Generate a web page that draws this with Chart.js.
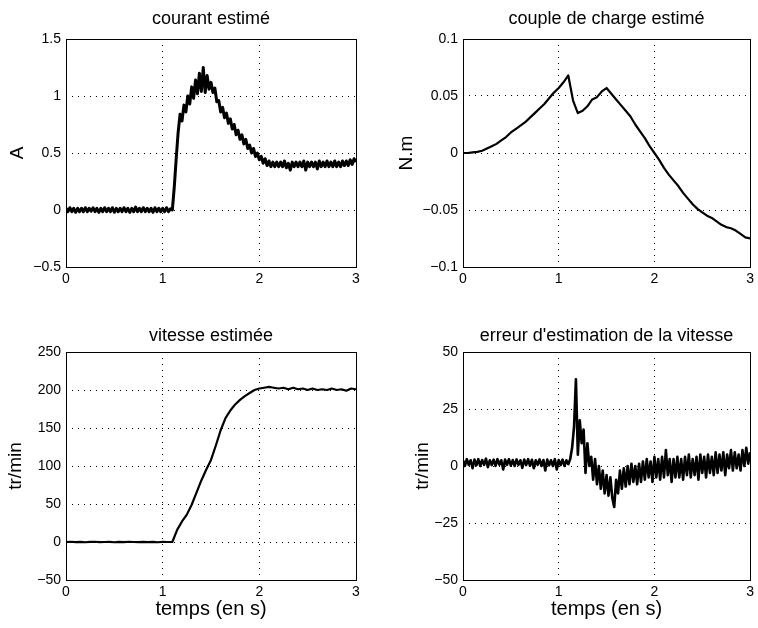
<!DOCTYPE html>
<html lang="fr">
<head>
<meta charset="utf-8">
<title>Observateur : grandeurs estimées</title>
<script src="https://cdn.jsdelivr.net/npm/chart.js@4.4.1/dist/chart.umd.min.js"></script>
<style>
  html, body { margin: 0; padding: 0; background: #fff; }
  #page { position: relative; width: 758px; height: 628px; overflow: hidden; }
  canvas { position: absolute; }
</style>
</head>
<body>
<div id="page">
  <canvas id="courantChart" width="379" height="310" style="left:0;top:0"></canvas>
  <canvas id="coupleChart" width="379" height="310" style="left:379px;top:0"></canvas>
  <canvas id="vitesseChart" width="379" height="318" style="left:0;top:310px"></canvas>
  <canvas id="erreurChart" width="379" height="318" style="left:379px;top:310px"></canvas>
</div>
<script>
// temps (s) : axe commun aux quatre tracés
const xTicks = [0, 1, 2, 3];

// courant estimé (A), un point toutes les 20 ms
const courantStep = 0.02;
const courantTicks = [-0.5, 0, 0.5, 1, 1.5];
const courantValues = [
  0.015, -0.015, 0.02, -0.015, 0.015, -0.02, 0.015, -0.015, 0.015, -0.015,
  0.02, -0.015, 0.015, -0.01, 0.02, -0.015, 0.015, -0.02, 0.015, -0.015,
  0.02, -0.015, 0.015, -0.015, 0.02, -0.02, 0.015, -0.015, 0.015, -0.015,
  0.02, -0.015, 0.015, -0.02, 0.015, -0.015, 0.025, -0.015, 0.015, -0.015,
  0.02, -0.015, 0.015, -0.015, 0.015, -0.02, 0.02, -0.015, 0.015, -0.015,
  0.015, -0.015, 0.02, -0.015, 0.01,
  0.0, 0.2, 0.45, 0.68, 0.84, 0.78, 0.92, 0.86, 1.0, 0.93,
  1.08, 0.98, 1.14, 1.02, 1.2, 1.04, 1.25, 1.03, 1.18, 1.06,
  1.12, 1.03, 1.07, 0.95, 0.96, 0.86, 0.90, 0.81, 0.85, 0.76,
  0.80, 0.71, 0.75, 0.66, 0.70, 0.62, 0.66, 0.58, 0.62, 0.54,
  0.57, 0.50, 0.54, 0.47, 0.50, 0.44, 0.47, 0.41, 0.45, 0.39,
  0.43, 0.38, 0.42, 0.38, 0.42,
  0.38, 0.42, 0.38, 0.43, 0.37, 0.41, 0.35, 0.42, 0.38, 0.42,
  0.38, 0.42, 0.38, 0.43, 0.35, 0.42, 0.38, 0.42, 0.38, 0.42,
  0.36, 0.43, 0.38, 0.42, 0.38, 0.43, 0.38, 0.42, 0.38, 0.43,
  0.38, 0.42, 0.38, 0.43, 0.39, 0.43, 0.39, 0.44, 0.40, 0.45,
  0.42
];

// couple de charge estimé (N.m), un point toutes les 50 ms
const coupleStep = 0.05;
const coupleTicks = [-0.1, -0.05, 0, 0.05, 0.1];
const coupleValues = [
  0, 0, 0.0005, 0.001, 0.002, 0.004, 0.006, 0.008, 0.011, 0.014,
  0.018, 0.021, 0.024, 0.027, 0.031, 0.035, 0.039, 0.043, 0.048, 0.053,
  0.057, 0.062, 0.068, 0.046, 0.035, 0.037, 0.041, 0.047, 0.049, 0.054,
  0.057, 0.052, 0.047, 0.042, 0.037, 0.032, 0.025, 0.019, 0.013, 0.006,
  0.0, -0.006, -0.013, -0.019, -0.024, -0.029, -0.035, -0.040, -0.045, -0.049,
  -0.052, -0.055, -0.057, -0.060, -0.063, -0.065, -0.066, -0.068, -0.071, -0.074,
  -0.075
];

// vitesse estimée (tr/min), un point toutes les 50 ms
const vitesseStep = 0.05;
const vitesseTicks = [-50, 0, 50, 100, 150, 200, 250];
const vitesseValues = [
  0, 0.3, -0.2, 0.2, -0.3, 0.1, 0.3, -0.2, 0, 0.2,
  -0.3, 0.1, -0.2, 0.3, 0, -0.2, 0.2, -0.1, 0.1, -0.3,
  0.2, 0, 0,
  16, 27, 36, 49, 65, 81, 95, 108, 127, 147,
  163, 173, 181, 187, 192, 196, 200, 202, 203, 204,
  203, 202, 203, 201, 203, 201, 202, 200, 202, 200,
  201, 200, 202, 200, 201, 199, 202, 201
];

// erreur d'estimation de la vitesse (tr/min), un point toutes les 20 ms
const erreurStep = 0.02;
const erreurTicks = [-50, -25, 0, 25, 50];
const erreurValues = [
  2.5, 0, 3, 0.5, 2.5, -1, 2.8, 0.3, 3, 0,
  2.6, 0.5, 3.2, -0.5, 2.5, 0.4, 2.8, 0, 3, 0.6,
  2.5, -1.5, 2.8, 0.5, 3, 0.2, 2.6, 0, 2.9, 0.5,
  2.5, -0.8, 2.8, 0.4, 3, 0.1, 2.7, -1, 2.5, 0.5,
  2.9, 0, 2.6, -2, 2.8, 0.3, 2.5, 0, 3, -1.5,
  2.6, 0.4, 2.8, 0, 2.5, 0.8,
  3, 8, 17, 38, 5, 20, 10, 16, -3, 10,
  0, 4, -6, 3, -8,
  0, -10, -2, -12, -4, -13, -5, -14, -18, -6,
  -12, -2, -10, -1, -9, 0, -8, 1, -7, 0,
  -8, 1, -7, 2, -6, 3, -5, 2, -7, 4,
  -5, 3, -6, 4, -5, 7, -4, 3, -7, 3,
  -5, 4, -5, 3, -6, 4, -4, 5, -5, 3,
  -4, 4, -6, 5, -3, 4, -5, 5, -3, 4,
  -4, 6, -3, 5, -2, 6, -4, 5, -1, 7,
  -2, 6, -1, 5, -2, 7, 0, 8, 1, 6
];

const FONT = '"Liberation Sans", Arial, Helvetica, sans-serif';

// cadre complet autour de la zone de tracé + titre centré sur cette zone
const boxFrame = {
  id: 'boxFrame',
  afterDraw(chart, args, opts) {
    const { ctx, chartArea: a } = chart;
    ctx.save();
    ctx.strokeStyle = '#000';
    ctx.lineWidth = 1;
    ctx.strokeRect(Math.round(a.left) + 0.5, Math.round(a.top) + 0.5,
      Math.round(a.right - a.left), Math.round(a.bottom - a.top));
    ctx.fillStyle = '#000';
    ctx.font = '18px ' + FONT;
    ctx.textAlign = 'center';
    ctx.textBaseline = 'middle';
    ctx.fillText(opts.text, (a.left + a.right) / 2, opts.y);
    ctx.restore();
  }
};

const fmt = v => String(v).replace('-', '\u2212');

function makeChart(id, o) {
  const points = o.values.map((v, i) => ({ x: i * o.step, y: v }));
  new Chart(document.getElementById(id), {
    type: 'line',
    data: {
      datasets: [{
        data: points,
        borderColor: '#000',
        borderWidth: o.lineWidth,
        borderJoinStyle: 'round',
        pointRadius: 0,
        tension: 0,
        fill: false
      }]
    },
    options: {
      responsive: false,
      animation: false,
      layout: { padding: { left: 0, top: o.top, bottom: 0, right: o.right } },
      plugins: {
        legend: { display: false },
        tooltip: { enabled: false },
        title: { display: false },
        boxFrame: { text: o.title, y: o.titleY }
      },
      scales: {
        x: {
          type: 'linear',
          min: 0,
          max: 3,
          afterBuildTicks: s => { s.ticks = xTicks.map(v => ({ value: v })); },
          afterFit: s => { s.height = o.xHeight; },
          grid: { color: '#000', lineWidth: 1, drawTicks: false },
          border: { display: false, dash: [1, 5] },
          ticks: { color: '#000', padding: 4, font: { family: FONT, size: 14 }, callback: fmt, maxRotation: 0 },
          title: {
            display: !!o.xTitle,
            text: o.xTitle || '',
            color: '#000',
            font: { family: FONT, size: 20 },
            padding: { top: 0, bottom: 7 }
          }
        },
        y: {
          min: o.yTicks[0],
          max: o.yTicks[o.yTicks.length - 1],
          afterBuildTicks: s => { s.ticks = o.yTicks.map(v => ({ value: v })); },
          afterFit: s => { s.width = o.yWidth; },
          grid: { color: '#000', lineWidth: 1, drawTicks: false },
          border: { display: false, dash: [1, 5] },
          ticks: { color: '#000', padding: 5, font: { family: FONT, size: 14 }, callback: fmt },
          title: {
            display: true,
            text: o.yTitle,
            color: '#000',
            font: { family: FONT, size: 19 },
            padding: { top: o.yTitlePad, bottom: 0 }
          }
        }
      }
    },
    plugins: [boxFrame]
  });
}

makeChart('courantChart', {
  title: 'courant estimé', yTitle: 'A', values: courantValues, step: courantStep,
  yTicks: courantTicks, lineWidth: 3, right: 23, yWidth: 66, xHeight: 43,
  top: 39, titleY: 19.5, yTitlePad: 6
});

makeChart('coupleChart', {
  title: 'couple de charge estimé', yTitle: 'N.m', values: coupleValues, step: coupleStep,
  yTicks: coupleTicks, lineWidth: 2.2, right: 5, yWidth: 84, xHeight: 43,
  top: 39, titleY: 19.5, yTitlePad: 16
});

makeChart('vitesseChart', {
  title: 'vitesse estimée', yTitle: 'tr/min', xTitle: 'temps (en s)', values: vitesseValues, step: vitesseStep,
  yTicks: vitesseTicks, lineWidth: 2.2, right: 23, yWidth: 66, xHeight: 48,
  top: 42, titleY: 26, yTitlePad: 4
});

makeChart('erreurChart', {
  title: "erreur d'estimation de la vitesse", yTitle: 'tr/min', xTitle: 'temps (en s)', values: erreurValues, step: erreurStep,
  yTicks: erreurTicks, lineWidth: 2.6, right: 5, yWidth: 84, xHeight: 48,
  top: 42, titleY: 26, yTitlePad: 32
});
</script>
</body>
</html>
